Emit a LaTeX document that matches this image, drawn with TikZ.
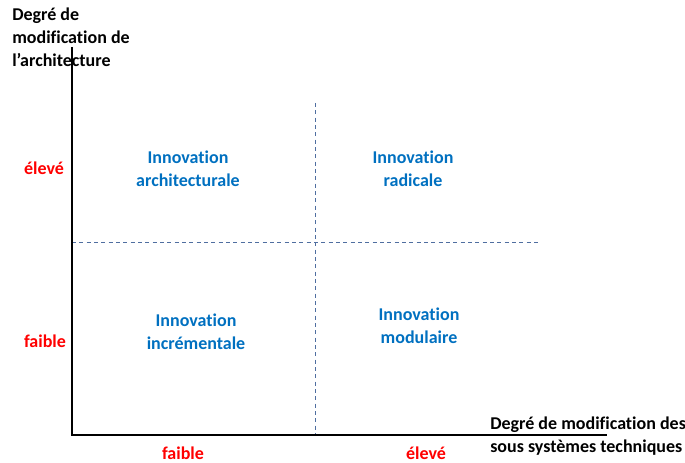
\documentclass[tikz,border=0pt]{standalone}
\usepackage{fontspec}
\setmainfont{Carlito}[Ligatures=NoCommon]
\usetikzlibrary{calc}
\definecolor{innoblue}{RGB}{0,112,192}
\definecolor{dashblue}{RGB}{79,110,160}
\newcommand{\labelfont}{\fontsize{13.5}{17.25}\selectfont\bfseries}
\tikzset{
  axis/.style={line width=1.5pt, black},
  grid line/.style={dashblue, line width=0.6pt, dash pattern=on 3pt off 2.5pt},
  quadrant/.style={text=innoblue, font=\labelfont, align=center, inner sep=0pt},
  level/.style={text=red, font=\labelfont, inner sep=0pt},
  title/.style={font=\labelfont, align=left, inner sep=0pt}
}
\begin{document}
\begin{tikzpicture}[x=0.75pt, y=-0.75pt]
			%%%%% START %%%%%
			\useasboundingbox (0,0) rectangle (685,463);
			
			\coordinate (origin) at (72, 435);
			\coordinate (ytop) at (72, 47);
			\coordinate (xend) at (607, 435);
			
			% grid
			\coordinate (vtop) at (315, 103);
			\coordinate (vbot) at (315, 435);
			\coordinate (hleft) at (72, 242);
			\coordinate (hright) at (540, 242);
			\draw[grid line] (vtop) -- (vbot);
			\draw[grid line] (hleft) -- (hright);
			
			% axes
			\draw[axis] (ytop) -- (origin) -- (xend);
			
			\node[title, anchor=west] (ytitle) at (12, 37) {Degré de\\modification de\\l’architecture};
			\node[title, anchor=west] (xtitle) at (490, 436) {Degré de modification des\\sous systèmes techniques};
			
			\node[level] (yhigh) at (44, 168) {élevé};
			\node[level] (ylow) at (45, 341) {faible};
			\node[level] (xlow) at (183, 453) {faible};
			\node[level] (xhigh) at (426, 453) {élevé};
			
			\node[quadrant] (archi) at (188, 169) {Innovation\\architecturale};
			\node[quadrant] (radic) at (413, 169) {Innovation\\radicale};
			\node[quadrant] (incre) at (196, 332) {Innovation\\incrémentale};
			\node[quadrant] (modul) at (419, 326) {Innovation\\modulaire};
			%%%%% END %%%%%
\end{tikzpicture}
\end{document}
